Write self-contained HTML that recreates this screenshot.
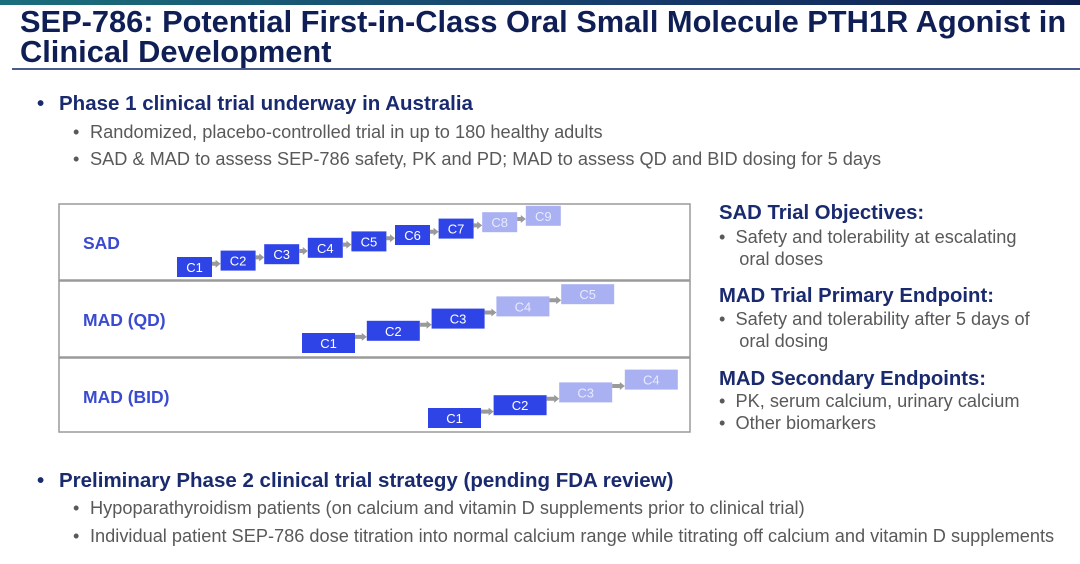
<!DOCTYPE html>
<html><head><meta charset="utf-8"><style>
body{margin:0;width:1080px;height:564px;background:#fff;position:relative;overflow:hidden;font-family:"Liberation Sans",Arial,sans-serif}
.a{position:absolute;white-space:nowrap}
.t{left:20px;font-size:30.8px;font-weight:bold;color:#0f1f55;line-height:32px}
.h{font-size:20.5px;font-weight:bold;color:#1a2a6e;line-height:24px}
.s{font-size:18.2px;color:#595959;line-height:22px}
.rh{font-size:20.3px;font-weight:bold;color:#1a2a6e;line-height:24px}
.rs{font-size:18.2px;color:#595959}
</style></head><body>
<div class="a" style="left:0;top:0;width:1080px;height:5px;background:linear-gradient(90deg,#1b6f7c,#163a6a 60%,#0f2050)"></div>
<div class="a t" style="top:6px">SEP-786: Potential First-in-Class Oral Small Molecule PTH1R Agonist in</div>
<div class="a t" style="top:36px">Clinical Development</div>
<div class="a" style="left:12px;top:68px;width:1068px;height:1.5px;background:#4a5a8a"></div>

<div class="a h" style="left:37px;top:92px">•</div>
<div class="a h" style="left:59px;top:92px">Phase 1 clinical trial underway in Australia</div>
<div class="a s" style="left:73px;top:121px">•</div>
<div class="a s" style="left:90px;top:121px">Randomized, placebo-controlled trial in up to 180 healthy adults</div>
<div class="a s" style="left:73px;top:148px">•</div>
<div class="a s" style="left:90px;top:148px">SAD &amp; MAD to assess SEP-786 safety, PK and PD; MAD to assess QD and BID dosing for 5 days</div>

<svg class="a" style="left:0;top:0" width="1080" height="564" id="dg"></svg>

<div class="a rh" style="left:719px;top:201px">SAD Trial Objectives:</div>
<div class="a rs" style="left:719px;top:226px;line-height:22px">•&nbsp;&nbsp;Safety and tolerability at escalating<br>&nbsp;&nbsp;&nbsp;&nbsp;oral doses</div>
<div class="a rh" style="left:719px;top:284px">MAD Trial Primary Endpoint:</div>
<div class="a rs" style="left:719px;top:308px;line-height:22px">•&nbsp;&nbsp;Safety and tolerability after 5 days of<br>&nbsp;&nbsp;&nbsp;&nbsp;oral dosing</div>
<div class="a rh" style="left:719px;top:367px">MAD Secondary Endpoints:</div>
<div class="a rs" style="left:719px;top:390px;line-height:22px">•&nbsp;&nbsp;PK, serum calcium, urinary calcium<br>•&nbsp;&nbsp;Other biomarkers</div>

<div class="a h" style="left:37px;top:469px">•</div>
<div class="a h" style="left:59px;top:469px">Preliminary Phase 2 clinical trial strategy (pending FDA review)</div>
<div class="a s" style="left:73px;top:497px">•</div>
<div class="a s" style="left:90px;top:497px">Hypoparathyroidism patients (on calcium and vitamin D supplements prior to clinical trial)</div>
<div class="a s" style="left:73px;top:525px">•</div>
<div class="a s" style="left:90px;top:525px">Individual patient SEP-786 dose titration into normal calcium range while titrating off calcium and vitamin D supplements</div>

<script>
const panels=["SAD","MAD (QD)","MAD (BID)"];
const sadCohorts=["C1","C2","C3","C4","C5","C6","C7","C8","C9"];
const sadPlanned=[0,0,0,0,0,0,0,1,1];
const qdCohorts=["C1","C2","C3","C4","C5"];
const qdPlanned=[0,0,0,1,1];
const bidCohorts=["C1","C2","C3","C4"];
const bidPlanned=[0,0,1,1];
const NS="http://www.w3.org/2000/svg";
const svg=document.getElementById('dg');
function mk(t,a){const e=document.createElementNS(NS,t);for(const k in a)e.setAttribute(k,a[k]);svg.appendChild(e);return e;}
const panelTop=[204,281,358], panelH=[76,76,74];
panels.forEach((p,i)=>{
  const r=mk('rect',{x:59,y:panelTop[i],width:631,height:panelH[i],fill:'#fff',stroke:'#9a9a9a','stroke-width':1.5});
  
  
  const t=mk('text',{x:83,y:panelTop[i]+45,fill:'#3a4bd0','font-size':17.5,'font-weight':'bold','font-family':'Liberation Sans, sans-serif'});
  t.textContent=p;
  
  
});
const rows=[
 {c:sadCohorts,p:sadPlanned,x0:177,dx:43.6,y0:257,dy:-6.4,w:35,h:20},
 {c:qdCohorts,p:qdPlanned,x0:302,dx:64.8,y0:333,dy:-12.2,w:53,h:20},
 {c:bidCohorts,p:bidPlanned,x0:428,dx:65.6,y0:408,dy:-12.8,w:53,h:20}
];
rows.forEach((r,ri)=>{
  const X=i=>r.x0+i*r.dx, Y=i=>r.y0+i*r.dy;
  r.c.forEach((lab,i)=>{
    if(i>0){
      const ax=X(i-1)+r.w, bx=X(i), my=(Y(i-1)+Y(i))/2+r.h/2;
      const ar=mk('path',{d:`M${ax} ${my-2}h${bx-ax-5}v-2l5 4l-5 4v-2h${-(bx-ax-5)}z`,fill:'#9a9a9a'});
      
      
    }
    const b=mk('rect',{x:X(i),y:Y(i),width:r.w,height:r.h,fill:r.p[i]?'#a9b1f2':'#2f44e6'});
    
    
    const t=mk('text',{x:X(i)+r.w/2,y:Y(i)+15,fill:r.p[i]?'#e8eaff':'#fff','font-size':13,'text-anchor':'middle','font-family':'Liberation Sans, sans-serif'});
    t.textContent=lab;
    
    
  });
});
</script>
</body></html>
